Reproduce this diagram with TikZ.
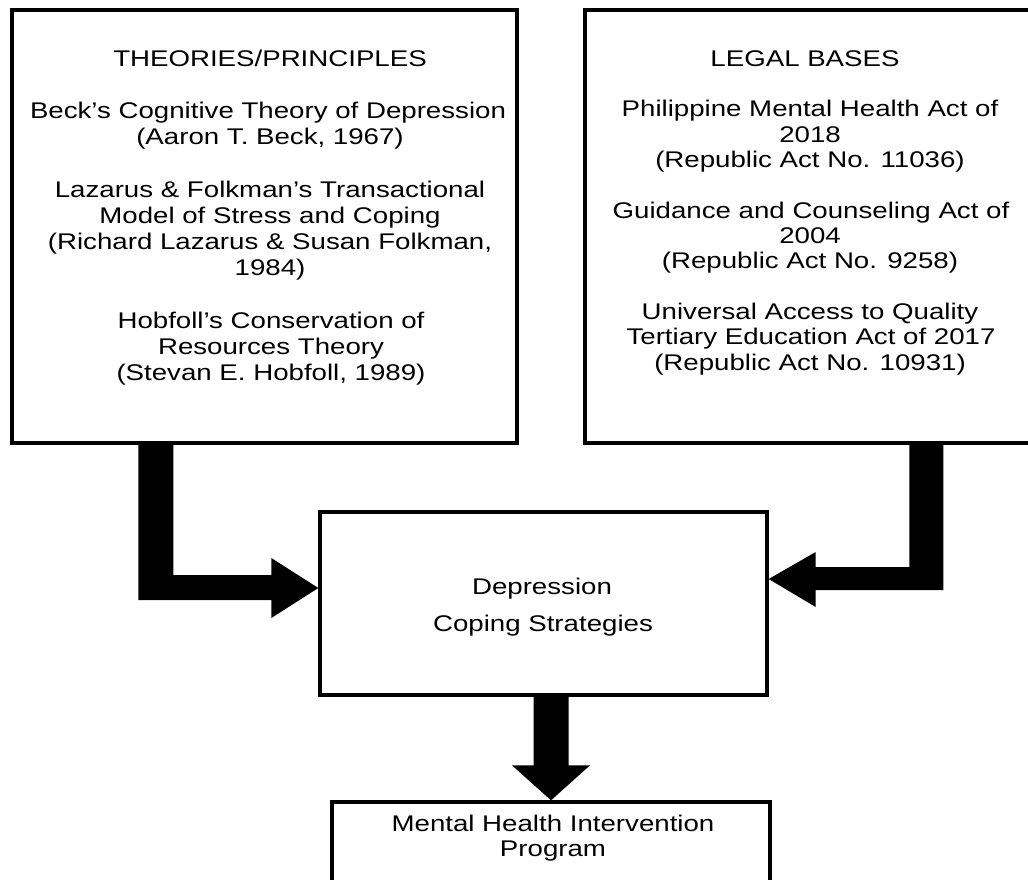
\documentclass[tikz,border=0pt]{standalone}
\usepackage{fontspec}
\setmainfont{Liberation Sans}[FakeStretch=1.22]
\usetikzlibrary{calc}
\begin{document}
\begin{tikzpicture}[x=0.75pt,y=-0.75pt,
  box/.style={draw=black,line width=2.5pt,rectangle,inner sep=0pt},
  txt/.style={anchor=base,inner sep=0pt,font=\fontsize{17}{20}\selectfont},
  blockarrow/.style={fill=black,draw=none}]
\useasboundingbox (0,0) rectangle (1028,879);
\begin{scope}
\clip (0,0) rectangle (1028,879);
% boxes
\node[box,minimum width=378.75pt,minimum height=324.75pt] (theo) at (264.5,226.5) {};
\node[box,minimum width=345pt,minimum height=324.75pt] (legal) at (815,226.5) {};
\node[box,minimum width=335.25pt,minimum height=137.25pt] (dep) at (543.5,603.5) {};
\node[box,minimum width=328.5pt,minimum height=67.5pt] (mhip) at (551,847) {};
% left texts
\node[txt] (t0) at (270,66) {THEORIES/PRINCIPLES};
\node[txt] (t1) at (268,118.4) {Beck's Cognitive Theory of Depression};
\node[txt] (t2) at (270,144.6) {(Aaron T. Beck, 1967)};
\node[txt] (t3) at (270,197) {Lazarus \& Folkman's Transactional};
\node[txt] (t4) at (270,223.2) {Model of Stress and Coping};
\node[txt] (t5) at (270,249.4) {(Richard Lazarus \& Susan Folkman,};
\node[txt] (t6) at (270,275.6) {1984)};
\node[txt] (t7) at (271,328) {Hobfoll's Conservation of};
\node[txt] (t8) at (271,354.2) {Resources Theory};
\node[txt] (t9) at (271,380.4) {(Stevan E. Hobfoll, 1989)};
% right texts
\node[txt] (r0) at (805,66) {LEGAL BASES};
\node[txt] (r1) at (810,116.7) {Philippine Mental Health Act of};
\node[txt] (r2) at (810,142) {2018};
\node[txt] (r3) at (810,167.3) {(Republic Act No. 11036)};
\node[txt] (r4) at (811,218) {Guidance and Counseling Act of};
\node[txt] (r5) at (810,243.3) {2004};
\node[txt] (r6) at (810,268.7) {(Republic Act No. 9258)};
\node[txt] (r7) at (810,319.3) {Universal Access to Quality};
\node[txt] (r8) at (811,344.7) {Tertiary Education Act of 2017};
\node[txt] (r9) at (810,370) {(Republic Act No. 10931)};
% center texts
\node[txt] (c0) at (542,594) {Depression};
\node[txt] (c1) at (543,631) {Coping Strategies};
% bottom texts
\node[txt] (b0) at (553,831.7) {Mental Health Intervention};
\node[txt] (b1) at (553,856.7) {Program};
% left block arrow (theo -> dep)
\fill[blockarrow]
  ($(theo.south west)+(128,0)$) -- ($(theo.south west)+(163,0)$)
  |- ($(dep.west)+(-47,-28.5)$) -- ($(dep.west)+(-47,-45.5)$)
  -- ($(dep.west)+(0,-15.5)$)
  -- ($(dep.west)+(-47,14.5)$) -- ($(dep.west)+(-47,-3.5)$)
  -| cycle;
% right block arrow (legal -> dep)
\fill[blockarrow]
  ($(legal.south west)+(326,0)$) -- ($(legal.south west)+(360,0)$)
  |- ($(dep.east)+(47,-13.5)$) -- ($(dep.east)+(47,3.5)$)
  -- ($(dep.east)+(0,-24.5)$)
  -- ($(dep.east)+(47,-51.5)$) -- ($(dep.east)+(47,-36.5)$)
  -| cycle;
% bottom block arrow (dep -> mhip)
\fill[blockarrow]
  ($(dep.south)+(-10,0)$) -- ($(dep.south)+(25,0)$)
  -- ($(mhip.north)+(17.5,-35)$) -- ($(mhip.north)+(39,-35)$)
  -- (mhip.north)
  -- ($(mhip.north)+(-39,-35)$) -- ($(mhip.north)+(-17.5,-35)$)
  -- cycle;
\end{scope}
\end{tikzpicture}
\end{document}
